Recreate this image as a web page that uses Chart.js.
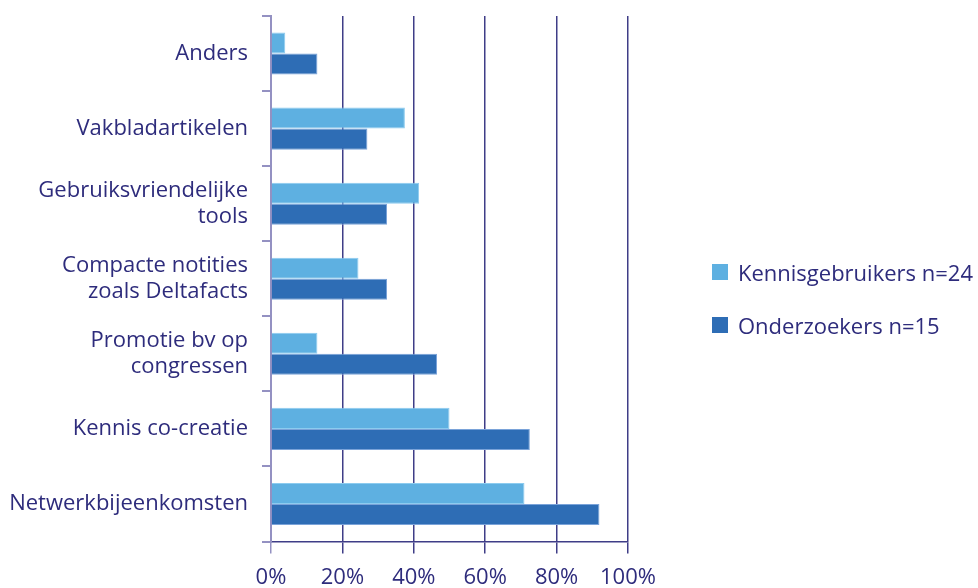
<!DOCTYPE html>
<html lang="nl">
<head>
<meta charset="UTF-8">
<title>Kennisoverdracht</title>
<style>
    body { margin: 0; background: #fff; }
    .wrap { position: relative; width: 978px; height: 588px; }
    #legend {
        position: absolute;
        left: 712px;
        top: 257px;
        font-family: "Open Sans", sans-serif;
        font-size: 22px;
        color: #2e2c7c;
    }
    #legend div { height: 53px; display: flex; align-items: flex-start; white-space: nowrap; }
    #legend span.box { display: inline-block; width: 16px; height: 16px; margin: 7px 10px 0 0; }
</style>
</head>
<body>
<div class="wrap">
    <canvas id="chart" width="978" height="588"></canvas>
    <div id="legend"></div>
</div>

<script src="https://cdn.jsdelivr.net/npm/chart.js"></script>
<script>
    const categories = [
        'Anders',
        'Vakbladartikelen',
        ['Gebruiksvriendelijke', 'tools'],
        ['Compacte notities', 'zoals Deltafacts'],
        ['Promotie bv op', 'congressen'],
        'Kennis co-creatie',
        'Netwerkbijeenkomsten'
    ];
    const seriesNames = ['Kennisgebruikers n=24', 'Onderzoekers n=15'];
    const kennisgebruikers = [4, 37.5, 41.5, 24.5, 13, 50, 71];
    const onderzoekers = [13, 27, 32.5, 32.5, 46.5, 72.5, 92];
    const xTicks = [0, 20, 40, 60, 80, 100];

    const textColor = '#2e2c7c';
    const gridColor = '#3f3d87';
    const axisColor = '#9491c2';
    const fillColors = ['#5eb0e1', '#2e6db5'];
    const edgeColors = ['#8ccbef', '#7aa3d9'];
    const font = { family: '"Open Sans", sans-serif', size: 22 };

    const ctx = document.getElementById('chart').getContext('2d');
    new Chart(ctx, {
        type: 'bar',
        data: {
            labels: categories,
            datasets: [kennisgebruikers, onderzoekers].map((d, i) => ({
                label: seriesNames[i],
                data: d,
                backgroundColor: fillColors[i],
                borderColor: edgeColors[i],
                borderWidth: 1,
                barPercentage: 1,
                categoryPercentage: 0.56
            }))
        },
        options: {
            indexAxis: 'y',
            responsive: false,
            animation: false,
            layout: { padding: { top: 16, right: 350, left: 0, bottom: 0 } },
            plugins: {
                legend: { display: false },
                tooltip: { enabled: false }
            },
            scales: {
                x: {
                    min: 0,
                    max: 100,
                    afterBuildTicks: s => { s.ticks = xTicks.map(v => ({ value: v })); },
                    afterFit: s => { s.height = 46.5; s.paddingLeft = 0; s.paddingRight = 0; },
                    ticks: {
                        color: textColor,
                        font: font,
                        padding: 11,
                        callback: v => v + '%'
                    },
                    grid: {
                        color: c => c.tick && c.tick.value === 0 ? axisColor : gridColor,
                        lineWidth: 1.5,
                        tickLength: 12
                    },
                    border: { color: gridColor, width: 1.5 }
                },
                y: {
                    afterFit: s => { s.width = 271; s.paddingTop = 0; s.paddingBottom = 0; },
                    ticks: {
                        color: textColor,
                        font: Object.assign({ lineHeight: 1.15 }, font),
                        padding: 14
                    },
                    grid: {
                        drawOnChartArea: false,
                        color: axisColor,
                        lineWidth: 2,
                        tickLength: 9
                    },
                    border: { color: axisColor, width: 2 }
                }
            }
        }
    });

    const legend = document.getElementById('legend');
    seriesNames.forEach((name, i) => {
        const row = document.createElement('div');
        const box = document.createElement('span');
        box.className = 'box';
        box.style.background = fillColors[i];
        row.appendChild(box);
        row.appendChild(document.createTextNode(name));
        legend.appendChild(row);
    });
</script>
</body>
</html>
